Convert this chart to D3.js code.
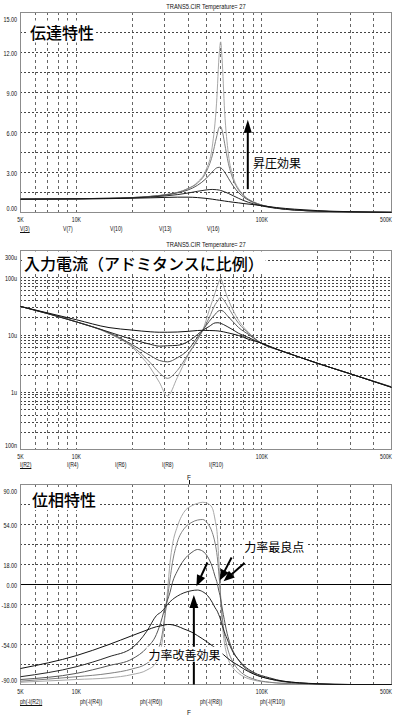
<!DOCTYPE html>
<html lang="ja">

<head>
  <meta charset="utf-8" />
  <title>TRANS5.CIR</title>
  <style>
    body {
      margin: 0;
      background: #fff;
    }

    svg {
      display: block;
    }

    .frame {
      fill: none;
      stroke: #8c8c8c;
      stroke-width: 1px;
    }

    .hgrid {
      stroke: #444;
      stroke-width: 1px;
      stroke-dasharray: 2, 2;
    }

    .vgrid {
      stroke: #666;
      stroke-width: 1px;
      stroke-dasharray: 3, 3;
    }

    .zero-line {
      stroke: #000;
      stroke-width: 1px;
    }

    .small {
      font-family: "Liberation Sans", Arial, sans-serif;
      font-size: 8px;
      fill: #111;
    }

    .title {
      font-family: "Noto Sans CJK JP", sans-serif;
      font-size: 16px;
      font-weight: 500;
      fill: #000;
    }

    .note {
      font-family: "Noto Sans CJK JP", sans-serif;
      font-size: 12px;
      fill: #000;
    }

    .curve {
      fill: none;
      stroke-width: 1px;
    }

    .arrow-line {
      stroke: #000;
      stroke-width: 2px;
    }
  </style>
</head>

<body>
  <script src="https://cdn.jsdelivr.net/npm/d3@7"></script>
  <script>
    // ---- data ----
    var headerText = "TRANS5.CIR Temperature= 27";

    var xTickValues = [5000, 10000, 100000, 500000];
    var xTickLabels = ["5K", "10K", "100K", "500K"];

    // transfer characteristic, V
    var freqV = [5000, 10000, 15000, 20000, 25000, 30000, 35000, 40000, 45000, 50000, 54000, 57000, 59000, 60000,
      61000, 63000, 66000, 70000, 75000, 80000, 90000, 100000, 120000, 150000, 200000, 300000, 500000];
    var v3 = [1.00, 1.02, 1.04, 1.07, 1.10, 1.13, 1.15, 1.15, 1.12, 1.06, 1.00, 0.95, 0.92, 0.90,
      0.89, 0.86, 0.82, 0.77, 0.72, 0.67, 0.59, 0.51, 0.37, 0.25, 0.14, 0.06, 0.02];
    var v7 = [1.00, 1.02, 1.05, 1.10, 1.16, 1.24, 1.34, 1.46, 1.59, 1.69, 1.73, 1.71, 1.68, 1.65,
      1.62, 1.55, 1.43, 1.26, 1.06, 0.89, 0.65, 0.49, 0.31, 0.18, 0.10, 0.04, 0.01];
    var v10 = [1.00, 1.03, 1.07, 1.12, 1.20, 1.31, 1.47, 1.69, 2.04, 2.54, 3.04, 3.34, 3.39, 3.36,
      3.28, 3.04, 2.57, 2.00, 1.48, 1.15, 0.75, 0.54, 0.33, 0.19, 0.10, 0.04, 0.01];
    var v13 = [1.00, 1.03, 1.07, 1.12, 1.21, 1.33, 1.50, 1.79, 2.21, 3.01, 4.24, 5.66, 6.40, 6.44,
      6.19, 5.19, 3.69, 2.48, 1.68, 1.24, 0.79, 0.56, 0.33, 0.19, 0.10, 0.04, 0.01];
    var v16 = [1.00, 1.03, 1.07, 1.12, 1.21, 1.33, 1.51, 1.80, 2.27, 3.20, 4.90, 8.20, 12.0, 12.8,
      11.6, 7.60, 4.40, 2.69, 1.77, 1.28, 0.80, 0.56, 0.33, 0.19, 0.10, 0.04, 0.01];
    var vNames = ["V(3)", "V(7)", "V(10)", "V(13)", "V(16)"];
    var vTickValues = [15, 12, 9, 6, 3, 0];

    // input current, uA
    var freqI = [5000, 10000, 15000, 20000, 25000, 28000, 31000, 35000, 40000, 45000, 48000, 52000, 56000,
      58000, 60000, 62000, 65000, 70000, 75000, 85000, 100000, 125000, 150000, 200000, 300000, 500000];
    var iR2 = [31.6, 18.5, 13.5, 12.2, 11.4, 11.2, 11.2, 11.3, 11.6, 12.0, 12.1, 12.0, 11.9,
      11.8, 11.6, 11.4, 11.0, 10.4, 9.8, 8.4, 7.2, 5.4, 4.4, 3.2, 2.1, 1.22];
    var iR4 = [31.6, 17.0, 11.3, 8.4, 6.9, 6.4, 6.5, 6.6, 7.7, 10.2, 12.1, 14.1, 16.3,
      16.4, 16.0, 15.3, 14.1, 12.3, 10.7, 9.0, 7.1, 5.4, 4.4, 3.2, 2.1, 1.22];
    var iR6 = [31.6, 17.0, 11.0, 6.8, 4.4, 3.6, 3.4, 4.0, 5.5, 9.2, 12.1, 17.3, 23.0,
      26.0, 27.0, 26.0, 22.0, 17.0, 13.5, 10.2, 7.1, 5.4, 4.4, 3.2, 2.1, 1.23];
    var iR8 = [31.6, 17.0, 10.8, 6.4, 3.3, 2.2, 1.75, 2.4, 4.6, 8.4, 12.1, 20.0, 34.0,
      40.0, 46.0, 42.0, 33.0, 22.0, 16.0, 10.7, 7.1, 5.4, 4.4, 3.2, 2.1, 1.24];
    var iR10 = [31.6, 17.0, 10.6, 6.1, 2.7, 1.5, 0.86, 1.8, 4.4, 8.2, 12.1, 26.9, 55.0,
      77.0, 97.0, 74.0, 47.0, 27.0, 18.0, 11.0, 7.1, 5.4, 4.4, 3.2, 2.1, 1.25];
    var iNames = ["I(R2)", "I(R4)", "I(R6)", "I(R8)", "I(R10)"];
    var iTickValues = [300, 100, 10, 1, 0.1];
    var iTickLabels = ["300u", "100u", "10u", "1u", "100n"];

    // phase, degrees
    var freqPh = [5000, 10000, 15000, 20000, 24000, 27000, 29000, 30000, 31000, 32000, 33000, 35000, 38000,
      42000, 45000, 48000, 51000, 54000, 56000, 57500, 58500, 59500, 60500, 62000, 65000, 70000, 75000,
      80000, 90000, 110000, 130000, 160000, 200000, 300000, 500000];
    var phR2 = [-75.6, -64, -54, -46, -41, -38, -37, -36.3, -36, -36, -36.3, -37.5, -40,
      -43, -46, -49, -52, -55, -57, -58.5, -59.5, -60.5, -61.5, -63, -66, -70, -73,
      -76, -80.5, -85, -87, -88.5, -89.3, -90, -90];
    var phR4 = [-83, -74, -65, -57, -42, -28, -24, -21, -18, -15.5, -13.5, -10.5, -7.5,
      -5.5, -5, -6.5, -10, -16, -21, -24, -27, -30, -34, -40, -49, -61, -68,
      -73, -79, -84, -87, -88.5, -89.5, -90, -90];
    var phR6 = [-85.5, -80, -73, -67, -57, -45, -30, -21, -14, -7, 2, 12, 22,
      29, 31.5, 30, 25, 16, 7, 1, -5, -10, -17, -27, -44, -60, -68,
      -74, -80, -85, -87.5, -89, -89.5, -90, -90];
    var phR8 = [-87, -83, -80, -76, -71, -62, -45, -28, -12, 5, 20, 38, 50,
      56, 58, 58.5, 55, 47, 37, 25, 12, -3, -20, -38, -56, -70, -77,
      -81, -85, -88, -89, -89.5, -90, -90, -90];
    var phR10 = [-88, -85.5, -84, -81, -77, -70, -52, -30, -6, 20, 36, 52, 65,
      71, 73, 74, 73, 69, 58, 45, 25, 0, -25, -45, -64, -75, -80,
      -83, -86, -88, -89, -89.5, -90, -90, -90];
    var phNames = ["ph(-I(R2))", "ph(-I(R4))", "ph(-I(R6))", "ph(-I(R8))", "ph(-I(R10))"];
    var phTickValues = [90, 54, 18, 0, -18, -54, -90];

    // ---- layout ----
    var w = 398;
    var h = 727;
    var plotLeft = 20;
    var plotRight = 392;
    // light gray for the sharpest trace, black for the flattest
    var traceColors = ["#111", "#262626", "#555", "#808080", "#a8a8a8"];

    var svg = d3.select("body")
      .append("svg")
      .attr("width", w)
      .attr("height", h);

    var xScale = d3.scaleLog()
      .domain([5000, 500000])
      .range([plotLeft + 0.5, plotRight - 0.5]);

    var xGrid = [];
    [1000, 10000, 100000].forEach(function(dec) {
      for (var k = 1; k < 10; k++) {
        if (k * dec > 5000 && k * dec < 500000) xGrid.push(k * dec);
      }
    });

    function crisp(v) {
      return Math.floor(v) + 0.5;
    }

    function narrow(sel, k) {
      sel.each(function() {
        var len = this.getComputedTextLength();
        d3.select(this)
          .attr("textLength", len * k)
          .attr("lengthAdjust", "spacingAndGlyphs");
      });
    }

    function boxedText(g, cls, x, y, txt) {
      var t = g.append("text")
        .attr("class", cls)
        .attr("x", x)
        .attr("y", y)
        .text(txt);
      var b = t.node().getBBox();
      g.insert("rect", function() { return t.node(); })
        .attr("x", b.x - 2)
        .attr("y", b.y + 1)
        .attr("width", b.width + 4)
        .attr("height", b.height - 2)
        .attr("fill", "#fff");
      return t;
    }

    function arrow(g, x1, y1, x2, y2, len, half) {
      var dx = x2 - x1,
        dy = y2 - y1,
        d = Math.sqrt(dx * dx + dy * dy);
      var ux = dx / d,
        uy = dy / d;
      var bx = x2 - ux * len,
        by = y2 - uy * len;
      g.append("line")
        .attr("class", "arrow-line")
        .attr("x1", x1)
        .attr("y1", y1)
        .attr("x2", bx + ux)
        .attr("y2", by + uy);
      g.append("path")
        .attr("fill", "#000")
        .attr("d", "M" + x2 + "," + y2 +
          "L" + (bx - uy * half) + "," + (by + ux * half) +
          "L" + (bx + uy * half) + "," + (by - ux * half) + "Z");
    }

    function drawPanel(p) {
      var g = svg.append("g");
      var y = p.yScale;

      if (p.header) {
        g.append("text")
          .attr("class", "small")
          .attr("x", (plotLeft + plotRight) / 2)
          .attr("y", p.top - 3)
          .attr("text-anchor", "middle")
          .text(p.header)
          .call(narrow, 0.72);
      }

      g.selectAll(".vgrid")
        .data(xGrid)
        .enter()
        .append("line")
        .attr("class", "vgrid")
        .attr("x1", function(d) { return crisp(xScale(d)); })
        .attr("x2", function(d) { return crisp(xScale(d)); })
        .attr("y1", p.top)
        .attr("y2", p.bottom);

      g.selectAll(".hgrid")
        .data(p.gridY)
        .enter()
        .append("line")
        .attr("class", "hgrid")
        .attr("x1", plotLeft)
        .attr("x2", plotRight)
        .attr("y1", function(d) { return crisp(y(d)); })
        .attr("y2", function(d) { return crisp(y(d)); });

      if (p.zeroLine) {
        g.append("line")
          .attr("class", "zero-line")
          .attr("x1", plotLeft)
          .attr("x2", plotRight)
          .attr("y1", crisp(y(0)))
          .attr("y2", crisp(y(0)));
      }

      g.append("rect")
        .attr("class", "frame")
        .attr("x", plotLeft + 0.5)
        .attr("y", p.top + 0.5)
        .attr("width", plotRight - plotLeft - 1)
        .attr("height", p.bottom - p.top - 1);

      boxedText(g, "title", p.titleX, p.titleY, p.title);

      var line = d3.line()
        .x(function(d) { return xScale(d.f); })
        .y(function(d) { return y(d.v); })
        .curve(d3.curveMonotoneX);

      // sharpest trace first, flattest (black) on top
      for (var s = p.series.length - 1; s >= 0; s--) {
        var pts = p.freq.map(function(f, i) {
          return { f: f, v: p.series[s][i] };
        });
        g.append("path")
          .datum(pts)
          .attr("class", "curve")
          .attr("stroke", traceColors[s])
          .attr("d", line);
      }

      // y tick labels
      g.selectAll(".ylab")
        .data(p.yTicks)
        .enter()
        .append("text")
        .attr("class", "small ylab")
        .attr("x", 17)
        .attr("y", function(d) {
          var cy = Math.max(p.top + 7, Math.min(p.bottom - 5, y(d)));
          return cy + 3;
        })
        .attr("text-anchor", "end")
        .text(function(d, i) { return p.yLabel(d, i); })
        .call(narrow, 0.68);

      // x tick labels
      g.selectAll(".xlab")
        .data(xTickValues)
        .enter()
        .append("text")
        .attr("class", "small xlab")
        .attr("x", function(d, i) { return i === xTickValues.length - 1 ? plotRight : xScale(d); })
        .attr("y", p.bottom + 9)
        .attr("text-anchor", function(d, i) { return i === xTickValues.length - 1 ? "end" : "middle"; })
        .text(function(d, i) { return xTickLabels[i]; })
        .call(narrow, 0.64);

      // trace names, first one underlined
      g.selectAll(".tname")
        .data(p.names)
        .enter()
        .append("text")
        .attr("class", "small tname")
        .attr("x", function(d, i) { return p.nameX[i]; })
        .attr("y", p.bottom + p.nameDy)
        .text(function(d) { return d; })
        .call(narrow, 0.64)
        .each(function(d, i) {
          if (i === 0) {
            var len = +this.getAttribute("textLength");
            g.append("line")
              .attr("x1", p.nameX[0])
              .attr("x2", p.nameX[0] + len)
              .attr("y1", p.bottom + p.nameDy + 1.5)
              .attr("y2", p.bottom + p.nameDy + 1.5)
              .attr("stroke", "#111")
              .attr("stroke-width", 1);
          }
        });

      if (p.showF) {
        g.append("text")
          .attr("class", "small")
          .attr("x", 189)
          .attr("y", p.bottom + 30)
          .attr("text-anchor", "middle")
          .text("F")
          .call(narrow, 0.8);
      }
      return g;
    }

    // ---- panel 1: transfer characteristic ----
    var y1 = d3.scaleLinear().domain([0, 15]).range([212.5, 12.5]);
    var g1 = drawPanel({
      top: 12,
      bottom: 213,
      yScale: y1,
      gridY: d3.range(1, 10).map(function(k) { return k * 1.5; }),
      yTicks: vTickValues,
      yLabel: function(d) { return d.toFixed(2); },
      freq: freqV,
      series: [v3, v7, v10, v13, v16],
      names: vNames,
      nameX: [20, 63, 110, 159, 207],
      nameDy: 18,
      header: headerText,
      title: "伝達特性",
      titleX: 30,
      titleY: 38.5
    });
    arrow(g1, xScale(84000), y1(1.75), xScale(84000), y1(6.95), 13, 4);
    boxedText(g1, "note", xScale(89500), y1(3.68) + 4.5, "昇圧効果");

    // ---- panel 2: input current ----
    var y2 = d3.scaleLog().domain([0.1, 300]).range([449.5, 250.5]);
    var iGrid = [];
    [0.1, 1, 10, 100].forEach(function(dec) {
      for (var k = 1; k < 10; k++) {
        if (k * dec > 0.1 && k * dec < 300) iGrid.push(k * dec);
      }
    });
    drawPanel({
      top: 250,
      bottom: 450,
      yScale: y2,
      gridY: iGrid,
      yTicks: iTickValues,
      yLabel: function(d, i) { return iTickLabels[i]; },
      freq: freqI,
      series: [iR2, iR4, iR6, iR8, iR10],
      names: iNames,
      nameX: [20, 67, 115, 162, 209],
      nameDy: 17,
      header: headerText,
      showF: true,
      title: "入力電流（アドミタンスに比例）",
      titleX: 24,
      titleY: 269.5
    });

    // ---- panel 3: phase ----
    var y3 = d3.scaleLinear().domain([-90, 90]).range([684.5, 484.5]);
    var g3 = drawPanel({
      top: 484,
      bottom: 685,
      yScale: y3,
      gridY: [-72, -54, -36, -18, 18, 36, 54, 72],
      zeroLine: true,
      yTicks: phTickValues,
      yLabel: function(d) { return d.toFixed(2); },
      freq: freqPh,
      series: [phR2, phR4, phR6, phR8, phR10],
      names: phNames,
      nameX: [20, 80, 140, 200, 260],
      nameDy: 19,
      showF: true,
      title: "位相特性",
      titleX: 32,
      titleY: 506
    });
    // cursor mark above the phase plot
    g3.append("line")
      .attr("x1", 189.5)
      .attr("x2", 189.5)
      .attr("y1", 480)
      .attr("y2", 484)
      .attr("stroke", "#111");

    arrow(g3, xScale(50900), y3(19.8), xScale(44400), y3(-1.5), 11, 4.5);
    arrow(g3, xScale(68700), y3(24.3), xScale(59300), y3(3.6), 11, 4.5);
    arrow(g3, xScale(80700), y3(19.4), xScale(62200), y3(2.9), 11, 4.5);
    boxedText(g3, "note", xScale(80400), y3(32.9) + 4.5, "力率最良点");
    arrow(g3, xScale(43000), y3(-90), xScale(43000), y3(-9.5), 13, 4.5);
    boxedText(g3, "note", xScale(24500), y3(-63.7) + 4.5, "力率改善効果");
  </script>
</body>

</html>
